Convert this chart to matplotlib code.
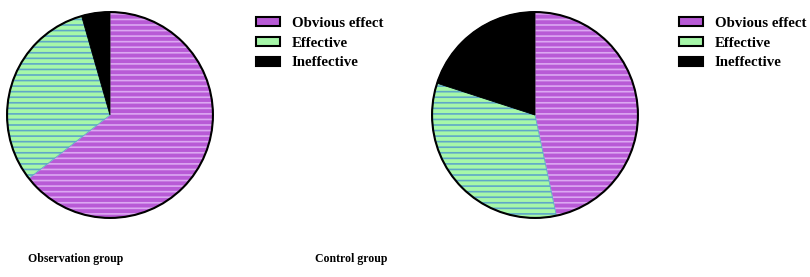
import matplotlib.pyplot as plt
from matplotlib.patches import Patch, Circle

plt.rcParams['font.family'] = ['Liberation Serif', 'DejaVu Serif']
plt.rcParams['hatch.linewidth'] = 1.2

labels = ["Obvious effect", "Effective", "Ineffective"]
observation = [29, 14, 2]
control = [21, 15, 9]
groups = ["Observation group", "Control group"]

face_colors = ["#b85ad6", "#a6f7a8", "#000000"]
hatch_colors = ["#dca8f2", "#5fa8c8", "#000000"]


def draw_pie(ax, values):
    wedges, _ = ax.pie(values, startangle=90, counterclock=False, radius=1.0,
                       colors=face_colors)
    for w, hc in zip(wedges, hatch_colors):
        w.set_edgecolor(hc)
        w.set_linewidth(0.6)
        w.set_hatch("---")
    ax.add_patch(Circle((0, 0), 1.0, fill=False, edgecolor="black", linewidth=1.5))
    ax.set_xlim(-1.02, 1.02)
    ax.set_ylim(-1.02, 1.02)
    ax.set_aspect("equal")
    ax.axis("off")


def main() -> None:
    W, H = 810, 277
    fig = plt.figure(figsize=(W / 100, H / 100), dpi=100)

    # pie axes placed by pixel centres
    for cx, vals in [(110, observation), (535, control)]:
        r = 105
        ax = fig.add_axes([(cx - r) / W, (H - 115 - r) / H, 2 * r / W, 2 * r / H])
        draw_pie(ax, vals)

    handles = [Patch(facecolor=c, edgecolor="black", linewidth=1.5) for c in face_colors]
    for lx in [256, 679]:
        fig.legend(handles, labels, loc="upper left", bbox_to_anchor=(lx / W, 1 - 17 / H),
                   frameon=False, handlelength=1.6, handleheight=0.55, handletextpad=0.8,
                   labelspacing=0.45, borderpad=0, borderaxespad=0,
                   prop={"weight": "bold", "size": 10.7})

    for tx, name in [(28, groups[0]), (315, groups[1])]:
        fig.text(tx / W, 1 - 259 / H, name, fontsize=8.5, fontweight="bold",
                 va="center", ha="left")

    plt.savefig("out.png", dpi=100)


if __name__ == '__main__':
    main()
